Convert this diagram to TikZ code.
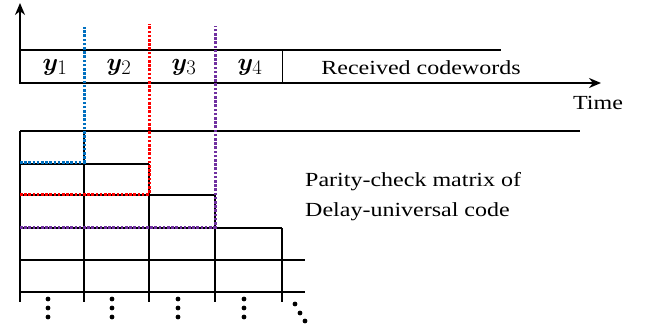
\documentclass[tikz,border=0pt]{standalone}
\usepackage{fontspec}
\setmainfont{Liberation Serif}[FakeStretch=1.2]
\usepackage{bm}
\usetikzlibrary{arrows.meta}
\DeclareMathSizes{26}{26}{21}{16}
\definecolor{cutblue}{RGB}{0,112,192}
\definecolor{cutred}{RGB}{255,0,0}
\definecolor{cutpurple}{RGB}{112,48,160}
\begin{document}
\begin{tikzpicture}[x=1pt, y=-1pt,
    axis/.style = {line width=2.6pt, -{Stealth[length=12pt, width=10pt]}},
    cell/.style = {line width=2pt},
    cut/.style = {line width=3pt, dash pattern=on 2.6pt off 1.6pt},
    txt/.style = {font=\fontsize{20}{30}\selectfont, inner sep=0pt},
    sym/.style = {font=\fontsize{26}{30}\selectfont, inner sep=0pt}]
    \useasboundingbox (0,0) rectangle (647,332);
    % received codewords
    \draw[axis] (20,84) -- (20,3);
    \draw[axis] (20,83) -- (601,83);
    \draw[cell] (19,50) -- (501,50);
    \draw[line width=1pt] (282,50) -- (282,83);
    \foreach \i/\x in {1/55, 2/119, 3/184, 4/250}
        \node[sym] (y\i) at (\x,67) {$\bm{y}_{\i}$};
    \node[txt] (rcv) at (421,68) {Received codewords};
    \node[txt] (time) at (598,103) {Time};
    % parity-check matrix
    \draw[cell] (20,131) -- (580,131);
    \draw[cell] (20,164) -- (149,164);
    \draw[cell] (20,195) -- (215,195);
    \draw[cell] (20,228) -- (282,228);
    \draw[cell] (20,260) -- (305,260);
    \draw[cell] (20,292) -- (305,292);
    \foreach \x/\t in {20/131, 84/131, 149/164, 215/195, 282/228}
        \draw[cell] (\x,\t) -- (\x,302);
    \node[txt, anchor=west, align=left] (pcm) at (305,197) {Parity-check matrix of\\Delay-universal code};
    % delay cuts
    \draw[cut, cutblue] (20,162) -- (84,162) -- (84,27);
    \draw[cut, cutred] (20,194) -- (149,194) -- (149,24);
    \draw[cut, cutpurple] (20,227) -- (215,227) -- (215,26);
    % dots
    \foreach \x in {48, 112, 178, 244}
        \foreach \d in {0, 9, 18}
            \fill (\x,299+\d) circle (2.4pt);
    \foreach \x/\y in {295/304, 300/313, 305/321}
        \fill (\x,\y) circle (2.4pt);
\end{tikzpicture}
\end{document}
